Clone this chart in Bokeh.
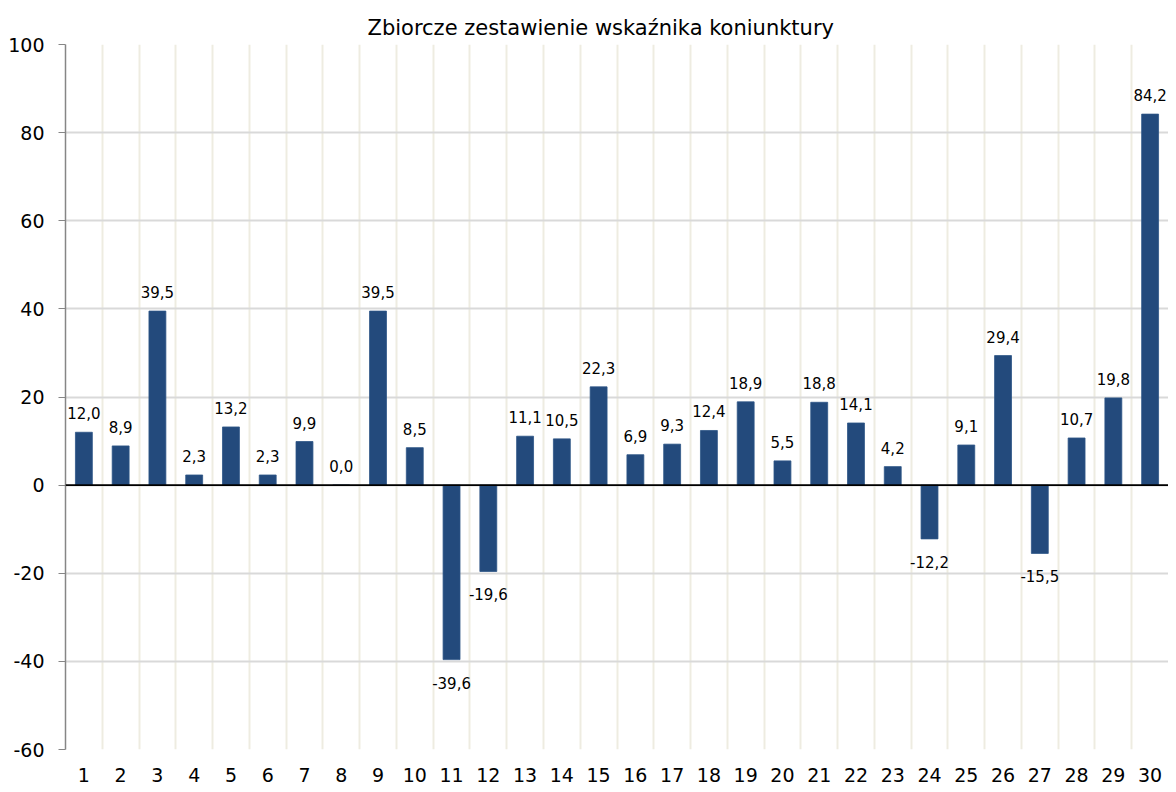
from bokeh.plotting import figure
from bokeh.models import FactorRange, FixedTicker, Span, ColumnDataSource, Range1d
from bokeh.core.properties import value
from bokeh.embed import file_html
from bokeh.resources import INLINE

title = "Zbiorcze zestawienie wskaźnika koniunktury"
categories = [str(i) for i in range(1, 31)]
values = [12.0, 8.9, 39.5, 2.3, 13.2, 2.3, 9.9, 0.0, 39.5, 8.5,
          -39.6, -19.6, 11.1, 10.5, 22.3, 6.9, 9.3, 12.4, 18.9, 5.5,
          18.8, 14.1, 4.2, -12.2, 9.1, 29.4, -15.5, 10.7, 19.8, 84.2]
y_ticks = [-60, -40, -20, 0, 20, 40, 60, 80, 100]

FONT = "DejaVu Sans"
BAR = "#234A7C"

p = figure(x_range=FactorRange(*categories), y_range=Range1d(-60, 100),
           width=1168, height=784, output_backend="svg", toolbar_location=None,
           min_border_left=65, min_border_right=0, min_border_top=44, min_border_bottom=32)
p.title.text = title
p.title.align = "left"
p.title.offset = 302
p.title.text_font = FONT
p.title.text_font_size = "21px"
p.title.text_font_style = "normal"
p.title.text_color = "#000000"
p.title.standoff = 10
p.outline_line_color = None

labels = [f"{v:.1f}".replace(".", ",") for v in values]
src = ColumnDataSource(dict(x=categories, top=values, lab=labels))
p.vbar(x="x", top="top", bottom=0, width=0.46, source=src,
       fill_color=BAR, line_color="#2d5587", line_width=0.8)

pos = ColumnDataSource(dict(x=[c for c, v in zip(categories, values) if v >= 0],
                            y=[v for v in values if v >= 0],
                            t=[l for l, v in zip(labels, values) if v >= 0]))
neg = ColumnDataSource(dict(x=[c for c, v in zip(categories, values) if v < 0],
                            y=[v for v in values if v < 0],
                            t=[l for l, v in zip(labels, values) if v < 0]))
p.text(x="x", y="y", text="t", source=pos, text_align="center", text_baseline="bottom",
       y_offset=-13, text_font=value(FONT), text_font_size="15px", text_color="#000000")
p.text(x="x", y="y", text="t", source=neg, text_align="center", text_baseline="top",
       y_offset=17, text_font=value(FONT), text_font_size="15px", text_color="#000000")

p.add_layout(Span(location=0, dimension="width", line_color="#000000", line_width=1.6))

# axes
p.yaxis.ticker = FixedTicker(ticks=y_ticks)
p.yaxis.major_label_overrides = {t: str(t) for t in y_ticks}
p.yaxis.axis_line_color = "#868686"
p.yaxis.axis_line_width = 1.5
p.yaxis.major_tick_line_color = "#868686"
p.yaxis.major_tick_out = 7
p.yaxis.major_tick_in = 0
p.yaxis.minor_tick_line_color = None
p.yaxis.major_label_text_font = FONT
p.yaxis.major_label_text_font_size = "19px"
p.yaxis.major_label_text_color = "#000000"
p.yaxis.major_label_standoff = 14

p.xaxis.axis_line_color = None
p.xaxis.major_tick_line_color = None
p.xaxis.minor_tick_line_color = None
p.xaxis.major_label_text_font = FONT
p.xaxis.major_label_text_font_size = "19px"
p.xaxis.major_label_text_color = "#000000"
p.xaxis.major_label_standoff = 12

p.ygrid.ticker = FixedTicker(ticks=y_ticks)
p.ygrid.grid_line_color = "#d9d9d9"
p.ygrid.grid_line_width = 2
p.xgrid.ticker = FixedTicker(ticks=list(range(1, 31)))
p.xgrid.grid_line_color = "#eeece1"
p.xgrid.grid_line_width = 2

open("out.html", "w").write(file_html(p, INLINE))
